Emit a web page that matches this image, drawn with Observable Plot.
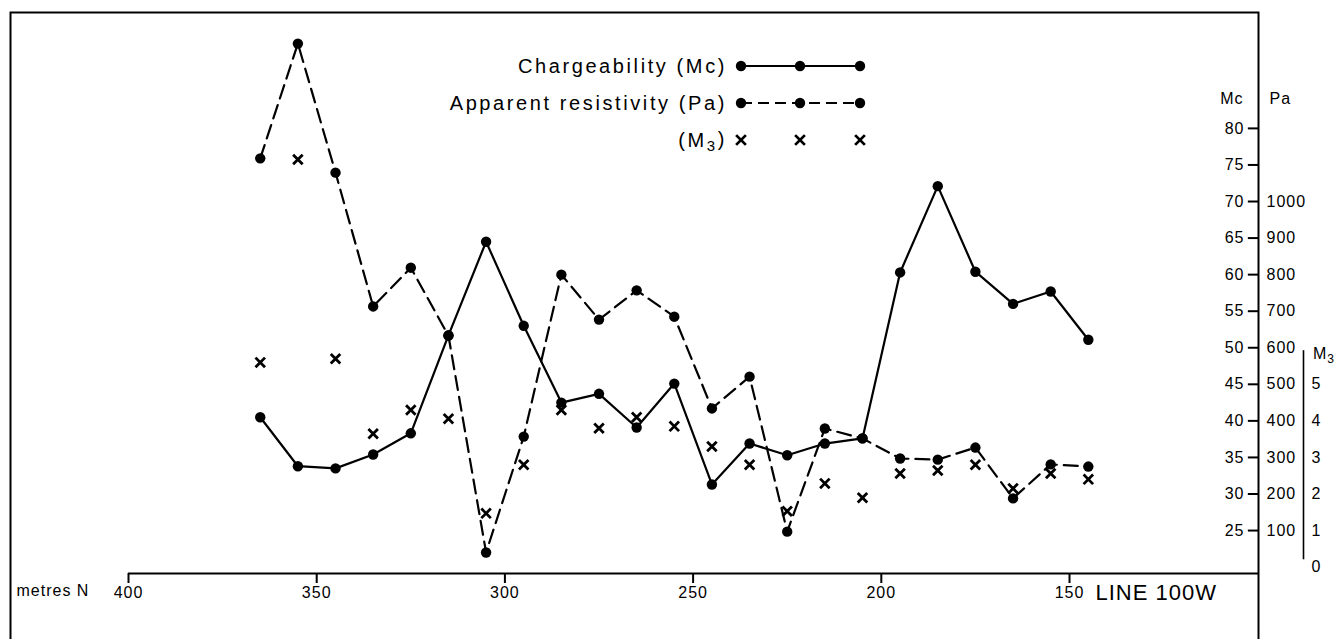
<!DOCTYPE html>
<html><head><meta charset="utf-8">
<script src="https://cdn.jsdelivr.net/npm/d3@7"></script>
<script src="https://cdn.jsdelivr.net/npm/@observablehq/plot@0.6"></script>
<style>
html,body{margin:0;padding:0;background:#fff;}
#wrap{position:relative;width:1337px;height:639px;overflow:hidden;background:#fff;}
#legend{position:absolute;left:0;top:0;pointer-events:none;}
</style></head><body><div id="wrap"></div>
<script>
// ---- data ----
const stations = [365,355,345,335,325,315,305,295,285,275,265,255,245,235,225,215,205,195,185,175,165,155,145];
const chargeability = [40.5,33.8,33.5,35.4,38.3,51.7,64.5,53.0,42.5,43.7,39.1,45.1,31.3,36.9,35.3,36.9,37.6,60.3,72.1,60.4,56.0,57.7,51.1];
const resistivity = [1118,1432,1079,713,819,633,40,357,800,677,757,685,434,521,97,379,352,297,294,327,188,281,275];
const m3 = [5.6,11.15,5.7,3.65,4.3,4.06,1.47,2.8,4.3,3.8,4.1,3.85,3.3,2.8,1.53,2.29,1.9,2.56,2.64,2.8,2.15,2.56,2.4];

const xTicks = [400,350,300,250,200,150];
const mcTicks = [25,30,35,40,45,50,55,60,65,70,75,80];
const paTicks = [100,200,300,400,500,600,700,800,900,1000];
const m3Ticks = [0,1,2,3,4,5];
const m3AxisExtent = [0.2,5.92];
const legendLabels = ["Chargeability (Mc)","Apparent resistivity (Pa)","(M3)"];
const xAxisTitle = "metres N";
const lineTitle = "LINE 100W";

// all three series share one vertical scale (Pa units): Mc = 20 + Pa/20, M3 = Pa/100
const mcToPa = v => (v - 20) * 20;
const m3ToPa = v => v * 100;

const FONT = "'Liberation Sans', Arial, Helvetica, sans-serif";
const W = 1337, H = 639;
const xDomain = [431.35, 99.79];
const yDomain = [-198, 1517];
const xAxisLevel = -17.5;
const mcTickLen = 2.7; // metres (≈10 px)
const idx = d3.range(stations.length);

const plot = Plot.plot({
  width: W, height: H,
  marginTop: 12, marginBottom: 0, marginLeft: 10, marginRight: 79,
  style: {fontFamily: FONT, fontSize: "16px", overflow: "hidden", background: "white", color: "black", letterSpacing: "1px"},
  x: {domain: xDomain, axis: null},
  y: {domain: yDomain, axis: null},
  marks: [
    Plot.frame({stroke: "black", strokeWidth: 2, insetBottom: -20}),
    // x axis
    Plot.ruleY([xAxisLevel], {x1: xTicks[0], x2: xDomain[1], strokeWidth: 2}),
    Plot.axisX({ticks: xTicks, tickSize: 10, tickPadding: 3, insetBottom: 66, strokeWidth: 2, label: null, fontSize: 16, tickFormat: d => String(d)}),
    Plot.text([xAxisTitle], {frameAnchor: "bottom-left", dx: 6, dy: -44, textAnchor: "start", fontSize: 16}),
    Plot.text([lineTitle], {x: xTicks[xTicks.length - 1], y: xAxisLevel, dx: 26, dy: 19, textAnchor: "start", fontSize: 22}),
    // right axes
    Plot.ruleY(mcTicks.map(mcToPa), {x1: xDomain[1] + mcTickLen, x2: xDomain[1], strokeWidth: 2}),
    Plot.axisY({anchor: "right", ticks: mcTicks.map(mcToPa), tickFormat: d => String(d / 20 + 20), tickSize: 0, tickPadding: -14, textAnchor: "end", label: null, fontSize: 16}),
    Plot.axisY({anchor: "right", ticks: paTicks, tickFormat: d => String(d), tickSize: 0, tickPadding: 8, label: null, fontSize: 16}),
    Plot.axisY({anchor: "right", ticks: m3Ticks.map(m3ToPa), tickFormat: d => String(d / 100), tickSize: 0, tickPadding: 53, label: null, fontSize: 16}),
    Plot.ruleX([xDomain[1]], {y1: m3ToPa(m3AxisExtent[0]), y2: m3ToPa(m3AxisExtent[1]), dx: 45, strokeWidth: 1.6}),
    Plot.text(["Mc"], {frameAnchor: "right", y: mcToPa(84.1), dx: -15, textAnchor: "end", fontSize: 16}),
    Plot.text(["Pa"], {frameAnchor: "right", y: mcToPa(84.1), dx: 11, textAnchor: "start", fontSize: 16}),
    // data
    Plot.line(idx, {x: i => stations[i], y: i => mcToPa(chargeability[i]), stroke: "black", strokeWidth: 2.2}),
    Plot.line(idx, {x: i => stations[i], y: i => resistivity[i], stroke: "black", strokeWidth: 2.2, strokeDasharray: "14,7"}),
    Plot.dot(idx, {x: i => stations[i], y: i => mcToPa(chargeability[i]), r: 5.2, fill: "black"}),
    Plot.dot(idx, {x: i => stations[i], y: i => resistivity[i], r: 5.2, fill: "black"}),
    Plot.dot(idx, {x: i => stations[i], y: i => m3ToPa(m3[i]), symbol: "times", r: 4.4, stroke: "black", strokeWidth: 2.8})
  ]
});
const wrap = document.getElementById("wrap");
wrap.appendChild(plot);

// ---- overlay: legend and subscripted M3 axis title ----
const xs = plot.scale("x"), ys = plot.scale("y");
const leg = d3.select(wrap).append("svg").attr("id", "legend").attr("width", W).attr("height", H);
function subText(sel, before, sub, after, subSize) {
  sel.text(before);
  sel.append("tspan").attr("dy", "0.28em").style("font-size", subSize).text(sub);
  if (after) sel.append("tspan").attr("dy", "-0.28em").text(after);
}
// M3 axis title
subText(leg.append("text").attr("x", xs.apply(xDomain[1]) + 55).attr("y", ys.apply(m3ToPa(5.82))).attr("dy", "0.35em")
  .style("font-family", FONT).style("font-size", "16px").style("letter-spacing", "1px"), "M", "3", null, "12px");

const rowsY = [66, 103, 140];
const symX = [741, 800, 860];
const textRight = 727;
legendLabels.forEach((lab, k) => {
  const g = leg.append("g");
  const y = rowsY[k];
  const t = g.append("text").attr("x", textRight).attr("y", y).attr("dy", "0.35em")
    .attr("text-anchor", "end").style("font-family", FONT).style("font-size", "20px").style("letter-spacing", "2.6px");
  if (k === 2) subText(t, "(M", "3", ")", "15px");
  else t.text(lab);
  if (k < 2) {
    g.append("line").attr("x1", symX[0]).attr("x2", symX[2]).attr("y1", y).attr("y2", y)
      .attr("stroke", "black").attr("stroke-width", 2.2).attr("stroke-dasharray", k === 1 ? "11,6" : null);
    symX.forEach(x => g.append("circle").attr("cx", x).attr("cy", y).attr("r", 5.2).attr("fill", "black"));
  } else {
    symX.forEach(x => g.append("path").attr("d", d3.symbol(d3.symbolTimes, 64)()).attr("transform", `translate(${x},${y})`)
      .attr("stroke", "black").attr("stroke-width", 2.8).attr("fill", "none"));
  }
});
</script></body></html>
